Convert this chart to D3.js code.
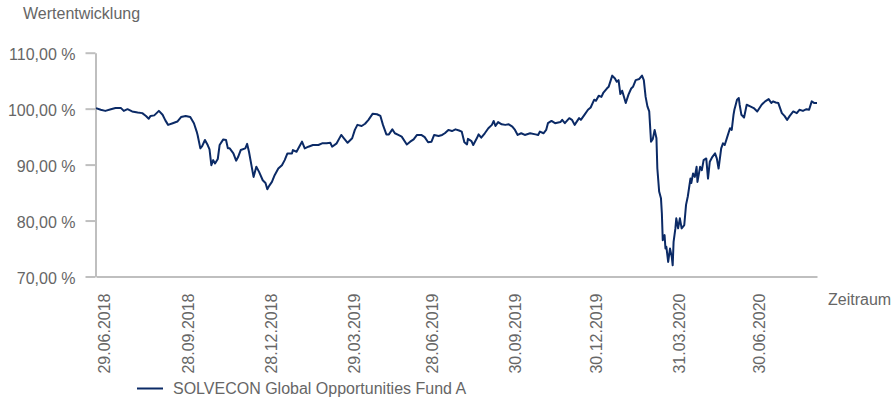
<!DOCTYPE html>
<html>
<head>
<meta charset="utf-8">
<script src="https://cdn.jsdelivr.net/npm/d3@7"></script>
<style>
  body { margin: 0; background: #fff; }
  text { font-family: "Liberation Sans", Arial, sans-serif; }
</style>
</head>
<body>
<script>
// fund performance, indexed (%)
const seriesName = "SOLVECON Global Opportunities Fund A"
const dates = [
  "21.06.2018","26.06.2018","01.07.2018","07.07.2018","12.07.2018","18.07.2018","21.07.2018","25.07.2018","30.07.2018","05.08.2018",
  "10.08.2018","14.08.2018","17.08.2018","19.08.2018","23.08.2018","28.08.2018","01.09.2018","04.09.2018","07.09.2018","12.09.2018",
  "17.09.2018","21.09.2018","26.09.2018","01.10.2018","05.10.2018","08.10.2018","09.10.2018","12.10.2018","14.10.2018","17.10.2018",
  "20.10.2018","22.10.2018","24.10.2018","26.10.2018","28.10.2018","31.10.2018","02.11.2018","06.11.2018","09.11.2018","11.11.2018",
  "13.11.2018","17.11.2018","20.11.2018","22.11.2018","25.11.2018","30.11.2018","02.12.2018","04.12.2018","07.12.2018","09.12.2018",
  "12.12.2018","15.12.2018","19.12.2018","22.12.2018","24.12.2018","26.12.2018","29.12.2018","01.01.2019","05.01.2019","09.01.2019",
  "12.01.2019","15.01.2019","20.01.2019","21.01.2019","25.01.2019","29.01.2019","31.01.2019","03.02.2019","07.02.2019","12.02.2019",
  "18.02.2019","22.02.2019","27.02.2019","03.03.2019","05.03.2019","10.03.2019","14.03.2019","15.03.2019","18.03.2019","22.03.2019",
  "27.03.2019","30.03.2019","02.04.2019","07.04.2019","11.04.2019","15.04.2019","20.04.2019","25.04.2019","29.04.2019","02.05.2019",
  "06.05.2019","09.05.2019","13.05.2019","16.05.2019","20.05.2019","24.05.2019","30.05.2019","03.06.2019","07.06.2019","11.06.2019",
  "16.06.2019","20.06.2019","24.06.2019","28.06.2019","01.07.2019","06.07.2019","10.07.2019","13.07.2019","17.07.2019","21.07.2019",
  "25.07.2019","29.07.2019","01.08.2019","04.08.2019","07.08.2019","08.08.2019","12.08.2019","14.08.2019","18.08.2019","20.08.2019",
  "23.08.2019","27.08.2019","31.08.2019","04.09.2019","06.09.2019","08.09.2019","11.09.2019","15.09.2019","19.09.2019","23.09.2019",
  "27.09.2019","30.09.2019","03.10.2019","07.10.2019","11.10.2019","17.10.2019","23.10.2019","26.10.2019","28.10.2019","01.11.2019",
  "04.11.2019","06.11.2019","10.11.2019","14.11.2019","20.11.2019","22.11.2019","25.11.2019","30.11.2019","03.12.2019","06.12.2019",
  "11.12.2019","13.12.2019","17.12.2019","21.12.2019","24.12.2019","28.12.2019","30.12.2019","02.01.2020","05.01.2020","07.01.2020",
  "11.01.2020","13.01.2020","17.01.2020","20.01.2020","22.01.2020","24.01.2020","26.01.2020","28.01.2020","01.02.2020","04.02.2020",
  "07.02.2020","09.02.2020","12.02.2020","16.02.2020","19.02.2020","21.02.2020","23.02.2020","25.02.2020","27.02.2020","29.02.2020",
  "02.03.2020","04.03.2020","06.03.2020","07.03.2020","09.03.2020","11.03.2020","12.03.2020","13.03.2020","15.03.2020","16.03.2020",
  "17.03.2020","19.03.2020","21.03.2020","23.03.2020","24.03.2020","25.03.2020","27.03.2020","28.03.2020","30.03.2020","01.04.2020",
  "03.04.2020","06.04.2020","08.04.2020","10.04.2020","13.04.2020","14.04.2020","16.04.2020","18.04.2020","20.04.2020","21.04.2020",
  "24.04.2020","26.04.2020","28.04.2020","01.05.2020","03.05.2020","05.05.2020","08.05.2020","11.05.2020","13.05.2020","15.05.2020",
  "18.05.2020","20.05.2020","22.05.2020","25.05.2020","28.05.2020","30.05.2020","01.06.2020","02.06.2020","03.06.2020","05.06.2020",
  "07.06.2020","08.06.2020","10.06.2020","13.06.2020","16.06.2020","20.06.2020","24.06.2020","28.06.2020","03.07.2020","07.07.2020",
  "11.07.2020","14.07.2020","16.07.2020","19.07.2020","22.07.2020","26.07.2020","29.07.2020","01.08.2020","04.08.2020","08.08.2020",
  "12.08.2020","15.08.2020","19.08.2020","23.08.2020","26.08.2020","29.08.2020","01.09.2020","04.09.2020"
]
const values = [
  100.1, 99.8, 99.6, 99.9, 100.1, 100.1, 99.6, 99.9, 99.5, 99.3,
  99.2, 98.7, 98.2, 98.7, 98.8, 99.6, 98.9, 97.9, 97.1, 97.4,
  97.7, 98.5, 98.7, 98.5, 97.4, 95.9, 95.3, 92.9, 93.3, 94.4,
  93.5, 92.7, 89.9, 90.8, 90.2, 91.0, 93.5, 94.5, 94.4, 92.9,
  92.9, 92.0, 90.7, 91.3, 92.6, 92.9, 93.7, 92.3, 89.6, 87.8,
  89.6, 88.7, 87.2, 86.7, 85.6, 86.2, 86.9, 88.1, 89.3, 89.9,
  90.8, 92.0, 92.0, 92.6, 92.3, 93.5, 94.1, 92.9, 93.2, 93.5,
  93.5, 93.8, 93.8, 93.9, 93.2, 93.8, 95.0, 95.3, 94.7, 93.9,
  94.7, 96.2, 97.1, 96.9, 97.3, 98.0, 99.1, 99.0, 98.7, 97.1,
  95.4, 95.4, 96.3, 95.6, 95.3, 95.0, 93.6, 94.1, 94.5, 95.3,
  95.3, 94.9, 94.0, 94.1, 95.3, 95.1, 95.3, 95.6, 96.2, 96.0,
  96.3, 96.1, 95.9, 94.0, 93.6, 94.6, 94.2, 93.5, 94.7, 95.4,
  94.8, 95.6, 96.5, 97.1, 97.8, 96.9, 97.6, 97.2, 97.1, 97.2,
  96.8, 96.2, 95.3, 95.6, 95.3, 95.6, 95.4, 95.3, 95.9, 95.6,
  96.2, 97.4, 97.8, 97.4, 97.6, 98.0, 97.4, 98.3, 98.0, 97.1,
  98.3, 98.0, 98.9, 99.8, 100.2, 101.6, 101.4, 102.3, 102.1, 102.8,
  103.6, 103.9, 105.9, 105.4, 104.8, 105.1, 102.6, 103.2, 101.0, 102.5,
  103.6, 103.9, 105.1, 105.3, 105.9, 105.1, 102.1, 100.4, 99.5, 94.1,
  94.6, 96.2, 94.7, 89.3, 85.2, 84.0, 81.3, 76.5, 77.4, 75.0,
  75.3, 72.6, 75.0, 73.5, 72.0, 76.2, 78.6, 80.4, 78.6, 80.4,
  78.6, 79.2, 82.8, 84.3, 87.5, 86.7, 88.4, 87.8, 89.6, 86.9,
  89.6, 89.0, 90.8, 91.1, 87.5, 90.5, 91.4, 92.0, 91.1, 89.3,
  92.9, 93.8, 93.5, 95.0, 96.5, 96.2, 98.9, 99.8, 100.4, 101.6,
  101.9, 100.7, 98.9, 98.4, 100.7, 100.4, 100.1, 99.5, 100.7, 101.3,
  101.7, 101.0, 101.3, 101.1, 101.0, 99.2, 98.7, 98.0, 98.7, 99.5,
  99.2, 99.8, 99.6, 99.9, 99.8, 101.3, 101.0, 101.0
]
const xTickLabels = ["29.06.2018", "28.09.2018", "28.12.2018", "29.03.2019", "28.06.2019", "30.09.2019", "30.12.2019", "31.03.2020", "30.06.2020"]
const yTicks = [70, 80, 90, 100, 110]

const width = 891
const height = 401
const gray = "#bfbfbf"
const textGray = "#666"
const lineColor = "#0b2a66"

const parse = d3.timeParse("%d.%m.%Y")
const data = dates.map((d, i) => ({ date: parse(d), value: values[i] }))
const tickDates = xTickLabels.map(parse)

const svg = d3.select("body")
    .append("svg")
    .attr("width", width)
    .attr("height", height)
    .style("font-size", "16px")

// axis is trading-day based in the original, so the quarters are not evenly spaced
const xScale = d3.scaleTime()
    .domain([data[0].date, ...tickDates, data[data.length - 1].date])
    .range([96, 103.5, 187.5, 271, 354, 431.5, 515, 596, 679, 759, 817])

const yScale = d3.scaleLinear().domain([70, 110]).range([276.5, 52.7])

const de = d3.formatLocale({ decimal: ",", thousands: ".", grouping: [3], currency: ["", " €"] })
const pct = de.format(".2f")

// y axis
const yAxis = d3.axisLeft(yScale)
    .tickValues(yTicks)
    .tickSize(10)
    .tickSizeOuter(0)
    .tickPadding(10)
    .tickFormat(d => pct(d) + " %")
const gy = svg.append("g")
    .attr("transform", "translate(95.5,0)")
    .call(yAxis)
gy.selectAll("path, line").attr("stroke", gray).attr("stroke-width", 2)
gy.selectAll("text")
    .attr("fill", textGray)
    .attr("dy", "0.41em")
    .style("font-size", "16px")
    .style("font-family", '"Liberation Sans", Arial, sans-serif')

// x axis
const xAxis = d3.axisBottom(xScale)
    .tickValues(tickDates)
    .tickSize(0)
    .tickSizeOuter(0)
    .tickFormat((d, i) => xTickLabels[i])
const gx = svg.append("g")
    .attr("transform", "translate(0,276.5)")
    .call(xAxis)
gx.select(".domain").attr("stroke", gray).attr("stroke-width", 2)
gx.selectAll("text")
    .attr("fill", textGray)
    .attr("transform", "rotate(-90)")
    .attr("x", -17)
    .attr("y", 0)
    .attr("dy", "0.36em")
    .style("text-anchor", "end")
    .style("font-size", "16px")
    .style("font-family", '"Liberation Sans", Arial, sans-serif')

// the line
const line = d3.line()
    .x(d => xScale(d.date))
    .y(d => yScale(d.value))
svg.append("path")
    .datum(data)
    .attr("fill", "none")
    .attr("stroke", lineColor)
    .attr("stroke-width", 2)
    .attr("stroke-linejoin", "round")
    .attr("d", line)

// titles
svg.append("text")
    .attr("x", 23)
    .attr("y", 18.5)
    .attr("fill", textGray)
    .text("Wertentwicklung")

svg.append("text")
    .attr("x", 828)
    .attr("y", 305)
    .attr("fill", textGray)
    .text("Zeitraum")

// legend
const legend = svg.append("g").attr("transform", "translate(137,388.5)")
legend.append("line")
    .attr("x1", 0)
    .attr("x2", 26)
    .attr("stroke", lineColor)
    .attr("stroke-width", 2)
legend.append("text")
    .attr("x", 36)
    .attr("y", 5.5)
    .attr("fill", textGray)
    .text(seriesName)
</script>
</body>
</html>
